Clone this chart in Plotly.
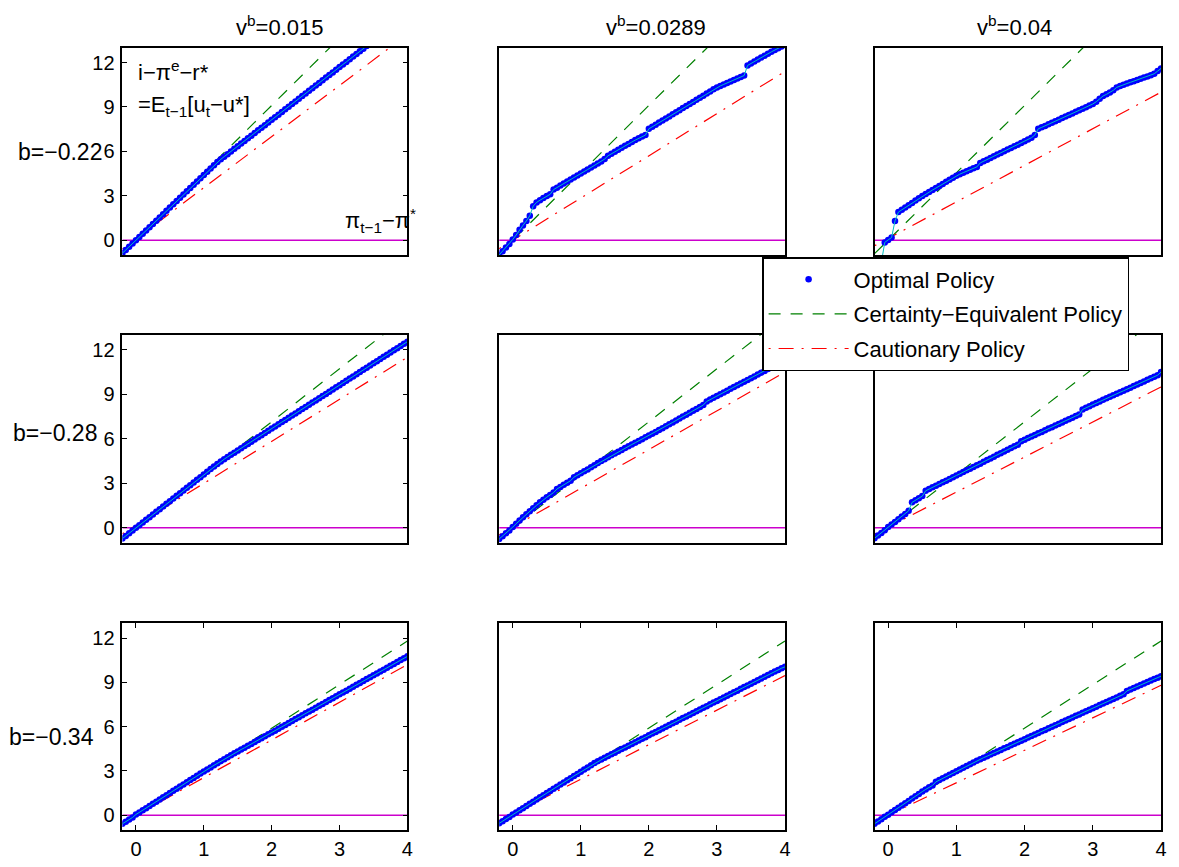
import plotly.graph_objects as go

# ---------------- data ----------------
X = [-0.2, -0.15, -0.1, -0.05, 0.0, 0.05, 0.1, 0.15, 0.2, 0.25, 0.3, 0.35, 0.4, 0.45, 0.5,
     0.55, 0.6, 0.65, 0.7, 0.75, 0.8, 0.85, 0.9, 0.95, 1.0, 1.05, 1.1, 1.15, 1.2, 1.25,
     1.3, 1.35, 1.4, 1.45, 1.5, 1.55, 1.6, 1.65, 1.7, 1.75, 1.8, 1.85, 1.9, 1.95, 2.0,
     2.05, 2.1, 2.15, 2.2, 2.25, 2.3, 2.35, 2.4, 2.45, 2.5, 2.55, 2.6, 2.65, 2.7, 2.75,
     2.8, 2.85, 2.9, 2.95, 3.0, 3.05, 3.1, 3.15, 3.2, 3.25, 3.3, 3.35, 3.4, 3.45, 3.5,
     3.55, 3.6, 3.65, 3.7, 3.75, 3.8, 3.85, 3.9, 3.95, 4.0]

LINE_X = [-0.2, 4.0]
ZERO_Y = [0.0, 0.0]

COL_TITLES = ["v<sup>b</sup>=0.015", "v<sup>b</sup>=0.0289", "v<sup>b</sup>=0.04"]
ROW_LABELS = ["b=\u22120.22", "b=\u22120.28", "b=\u22120.34"]
X_TICKS = [0, 1, 2, 3, 4]
Y_TICKS = [0, 3, 6, 9, 12]

# Optimal policy, row b=-0.22
OPT_R1C1 = [-0.88, -0.66, -0.44, -0.22, 0.0, 0.22, 0.44, 0.66, 0.88, 1.10, 1.32, 1.54, 1.76, 1.98, 2.20,
            2.42, 2.64, 2.86, 3.08, 3.30, 3.52, 3.74, 3.96, 4.18, 4.40, 4.62, 4.84, 5.06, 5.28, 5.46,
            5.64, 5.81, 5.99, 6.17, 6.35, 6.53, 6.70, 6.88, 7.06, 7.24, 7.42, 7.59, 7.77, 7.95, 8.13,
            8.31, 8.48, 8.66, 8.84, 9.02, 9.20, 9.37, 9.55, 9.73, 9.91, 10.09, 10.26, 10.44, 10.62, 10.80,
            10.98, 11.15, 11.33, 11.51, 11.69, 11.87, 12.04, 12.22, 12.40, 12.58, 12.76, 12.93, 13.11, 13.29, 13.47,
            13.65, 13.82, 14.00, 14.18, 14.36, 14.54, 14.71, 14.89, 15.07, 15.25]
OPT_R1C2 = [-1.0, -0.75, -0.5, -0.25, 0.05, 0.35, 0.7, 1.0, 1.3, 1.65, 2.3, 2.55, 2.7, 2.85, 2.98,
            3.1, 3.42, 3.55, 3.7, 3.83, 3.97, 4.1, 4.24, 4.37, 4.5, 4.64, 4.77, 4.91, 5.05, 5.18,
            5.32, 5.48, 5.7, 5.84, 5.97, 6.1, 6.24, 6.37, 6.5, 6.63, 6.76, 6.89, 7.0, 7.1, 7.52,
            7.66, 7.8, 7.94, 8.08, 8.22, 8.36, 8.5, 8.64, 8.78, 8.92, 9.06, 9.2, 9.34, 9.48, 9.62,
            9.76, 9.9, 10.04, 10.2, 10.32, 10.42, 10.52, 10.62, 10.72, 10.82, 10.92, 11.02, 11.12, 11.8, 11.94,
            12.07, 12.2, 12.33, 12.46, 12.59, 12.72, 12.85, 12.96, 13.08, 13.2]
OPT_R1C3 = [-4.2, -2.9, -1.4, -0.15, 0.02, 0.18, 1.3, 1.9, 2.05, 2.2, 2.36, 2.52, 2.68, 2.84, 2.99,
            3.12, 3.26, 3.39, 3.52, 3.66, 3.8, 3.94, 4.08, 4.22, 4.36, 4.46, 4.56, 4.66, 4.76, 4.86,
            4.95, 5.22, 5.33, 5.44, 5.55, 5.67, 5.78, 5.89, 6.0, 6.12, 6.23, 6.34, 6.45, 6.57, 6.68,
            6.8, 6.92, 7.1, 7.52, 7.62, 7.72, 7.83, 7.93, 8.04, 8.14, 8.25, 8.35, 8.46, 8.56, 8.67,
            8.77, 8.88, 8.98, 9.1, 9.2, 9.35, 9.55, 9.74, 9.85, 9.97, 10.12, 10.32, 10.42, 10.5, 10.58,
            10.66, 10.74, 10.82, 10.9, 10.98, 11.06, 11.14, 11.24, 11.42, 11.6]

# Optimal policy, row b=-0.28
OPT_R2C1 = [-0.72, -0.54, -0.36, -0.18, 0.0, 0.18, 0.36, 0.54, 0.72, 0.9, 1.08, 1.26, 1.44, 1.62, 1.8,
            1.98, 2.16, 2.34, 2.52, 2.7, 2.88, 3.06, 3.24, 3.42, 3.6, 3.78, 3.96, 4.14, 4.31, 4.47,
            4.63, 4.78, 4.93, 5.07, 5.22, 5.37, 5.51, 5.66, 5.81, 5.95, 6.1, 6.25, 6.39, 6.54, 6.69,
            6.83, 6.98, 7.13, 7.27, 7.42, 7.57, 7.71, 7.86, 8.01, 8.15, 8.3, 8.45, 8.59, 8.74, 8.89,
            9.03, 9.18, 9.33, 9.47, 9.62, 9.77, 9.91, 10.06, 10.21, 10.35, 10.5, 10.65, 10.79, 10.94, 11.09,
            11.23, 11.38, 11.53, 11.67, 11.82, 11.97, 12.11, 12.26, 12.41, 12.55]
OPT_R2C2 = [-0.75, -0.56, -0.37, -0.18, 0.05, 0.28, 0.5, 0.72, 0.92, 1.12, 1.32, 1.52, 1.72, 1.9, 2.06,
            2.22, 2.38, 2.62, 2.76, 2.9, 3.04, 3.18, 3.42, 3.55, 3.68, 3.81, 3.94, 4.08, 4.22, 4.37,
            4.5, 4.63, 4.76, 4.89, 5.01, 5.13, 5.25, 5.38, 5.5, 5.62, 5.74, 5.86, 5.98, 6.1, 6.22,
            6.34, 6.46, 6.6, 6.72, 6.85, 6.98, 7.11, 7.24, 7.37, 7.5, 7.63, 7.76, 7.89, 8.02, 8.15,
            8.28, 8.52, 8.65, 8.77, 8.89, 9.01, 9.13, 9.25, 9.37, 9.49, 9.61, 9.73, 9.85, 9.97, 10.09,
            10.21, 10.33, 10.46, 10.58, 10.7, 10.83, 10.95, 11.08, 11.2, 11.33]
OPT_R2C3 = [-0.7, -0.52, -0.34, -0.16, 0.05, 0.22, 0.4, 0.58, 0.76, 0.94, 1.15, 1.72, 1.86, 2.0, 2.14,
            2.5, 2.62, 2.73, 2.84, 2.96, 3.07, 3.18, 3.3, 3.41, 3.53, 3.64, 3.76, 3.88, 3.99, 4.1,
            4.22, 4.33, 4.45, 4.57, 4.68, 4.8, 4.92, 5.03, 5.15, 5.27, 5.38, 5.5, 5.61, 5.83, 5.94,
            6.05, 6.15, 6.26, 6.37, 6.47, 6.58, 6.69, 6.79, 6.9, 7.0, 7.11, 7.22, 7.32, 7.43, 7.54,
            7.64, 7.98, 8.09, 8.2, 8.31, 8.42, 8.52, 8.63, 8.73, 8.84, 8.94, 9.04, 9.14, 9.24, 9.35,
            9.45, 9.56, 9.66, 9.77, 9.87, 9.98, 10.08, 10.19, 10.29, 10.5]

# Optimal policy, row b=-0.34
OPT_R3C1 = [-0.58, -0.44, -0.29, -0.15, 0.05, 0.19, 0.34, 0.48, 0.63, 0.78, 0.92, 1.07, 1.21, 1.36, 1.5,
            1.65, 1.8, 1.94, 2.09, 2.23, 2.38, 2.52, 2.67, 2.82, 2.96, 3.1, 3.24, 3.38, 3.52, 3.66,
            3.8, 3.93, 4.06, 4.19, 4.32, 4.45, 4.57, 4.7, 4.83, 4.96, 5.09, 5.22, 5.35, 5.48, 5.61,
            5.73, 5.86, 5.99, 6.12, 6.25, 6.38, 6.51, 6.64, 6.77, 6.9, 7.02, 7.15, 7.28, 7.41, 7.54,
            7.67, 7.8, 7.93, 8.06, 8.19, 8.31, 8.44, 8.57, 8.7, 8.83, 8.96, 9.09, 9.22, 9.35, 9.48,
            9.6, 9.73, 9.86, 9.99, 10.12, 10.25, 10.38, 10.51, 10.64, 10.76]
OPT_R3C2 = [-0.55, -0.41, -0.26, -0.12, 0.05, 0.19, 0.34, 0.48, 0.63, 0.77, 0.92, 1.06, 1.21, 1.35, 1.5,
            1.64, 1.79, 1.93, 2.08, 2.22, 2.37, 2.51, 2.66, 2.8, 2.95, 3.09, 3.24, 3.38, 3.53, 3.66,
            3.78, 3.89, 4.01, 4.13, 4.24, 4.36, 4.48, 4.59, 4.71, 4.83, 4.94, 5.06, 5.18, 5.29, 5.41,
            5.53, 5.64, 5.76, 5.88, 5.99, 6.11, 6.23, 6.34, 6.46, 6.58, 6.69, 6.81, 6.93, 7.04, 7.16,
            7.28, 7.39, 7.51, 7.63, 7.74, 7.86, 7.98, 8.09, 8.21, 8.33, 8.44, 8.56, 8.68, 8.79, 8.91,
            9.03, 9.14, 9.26, 9.38, 9.49, 9.61, 9.73, 9.84, 9.96, 10.05]
OPT_R3C3 = [-0.58, -0.42, -0.27, -0.11, 0.04, 0.2, 0.35, 0.51, 0.66, 0.82, 0.97, 1.13, 1.28, 1.44, 1.6,
            1.75, 1.9, 2.02, 2.26, 2.38, 2.5, 2.62, 2.74, 2.86, 2.98, 3.1, 3.21, 3.33, 3.45, 3.57,
            3.69, 3.79, 3.9, 4.0, 4.11, 4.21, 4.32, 4.42, 4.53, 4.63, 4.74, 4.84, 4.95, 5.05, 5.15,
            5.26, 5.36, 5.47, 5.57, 5.68, 5.78, 5.89, 5.99, 6.1, 6.2, 6.31, 6.41, 6.52, 6.62, 6.73,
            6.83, 6.94, 7.04, 7.14, 7.25, 7.35, 7.46, 7.56, 7.67, 7.77, 7.88, 7.98, 8.09, 8.19, 8.42,
            8.52, 8.62, 8.72, 8.82, 8.92, 9.02, 9.12, 9.22, 9.32, 9.42]

# Certainty-equivalent policy (values at x=-0.2 and x=4)
CE_R1C1 = [-0.91, 18.2]
CE_R1C2 = [-0.91, 18.2]
CE_R1C3 = [-0.91, 18.2]
CE_R2C1 = [-0.71, 14.3]
CE_R2C2 = [-0.71, 14.3]
CE_R2C3 = [-0.71, 14.3]
CE_R3C1 = [-0.59, 11.8]
CE_R3C2 = [-0.59, 11.8]
CE_R3C3 = [-0.59, 11.8]

# Cautionary policy (values at x=-0.2 and x=4)
CAU_R1C1 = [-0.6, 13.9]
CAU_R1C2 = [-0.57, 11.4]
CAU_R1C3 = [-0.38, 10.0]
CAU_R2C1 = [-0.4, 11.5]
CAU_R2C2 = [-0.47, 10.5]
CAU_R2C3 = [-0.42, 9.5]
CAU_R3C1 = [-0.51, 10.2]
CAU_R3C2 = [-0.37, 9.46]
CAU_R3C3 = [-0.44, 8.8]

OPT = [[OPT_R1C1, OPT_R1C2, OPT_R1C3], [OPT_R2C1, OPT_R2C2, OPT_R2C3], [OPT_R3C1, OPT_R3C2, OPT_R3C3]]
CE = [[CE_R1C1, CE_R1C2, CE_R1C3], [CE_R2C1, CE_R2C2, CE_R2C3], [CE_R3C1, CE_R3C2, CE_R3C3]]
CAU = [[CAU_R1C1, CAU_R1C2, CAU_R1C3], [CAU_R2C1, CAU_R2C2, CAU_R2C3], [CAU_R3C1, CAU_R3C2, CAU_R3C3]]

# ---------------- layout geometry ----------------
W, H = 1179, 867
COL_PX = [(123, 409.5), (501.7, 789), (879, 1167)]
ROW_PX = [(47.7, 255), (335, 542.7), (623.3, 830)]
FONT = "Liberation Sans, Arial, Helvetica, sans-serif"

fig = go.Figure()
layout = {}
for r in range(3):
    for c in range(3):
        k = r * 3 + c + 1
        xa = "x" if k == 1 else f"x{k}"
        ya = "y" if k == 1 else f"y{k}"
        show = (r == 0 and c == 0)
        fig.add_trace(go.Scatter(x=LINE_X, y=ZERO_Y, mode="lines", xaxis=xa, yaxis=ya,
                                 line=dict(color="#cc00cc", width=1.5), showlegend=False, hoverinfo="skip"))
        fig.add_trace(go.Scatter(x=LINE_X, y=CE[r][c], mode="lines", xaxis=xa, yaxis=ya,
                                 name="Certainty\u2212Equivalent Policy", legendgroup="ce", legendrank=2,
                                 line=dict(color="#008000", width=1.2, dash="12px,10px"), showlegend=show))
        fig.add_trace(go.Scatter(x=LINE_X, y=CAU[r][c], mode="lines", xaxis=xa, yaxis=ya,
                                 name="Cautionary Policy", legendgroup="cau", legendrank=3,
                                 line=dict(color="#ff0000", width=1.2, dash="2px,8px,15px,8px"), showlegend=show))
        fig.add_trace(go.Scatter(x=X, y=OPT[r][c], mode="markers", xaxis=xa, yaxis=ya,
                                 name="Optimal Policy", legendgroup="opt", legendrank=1,
                                 marker=dict(color="#0000ff", size=6.5, line=dict(width=0)), showlegend=show))
        fig.add_trace(go.Scatter(x=X, y=OPT[r][c], mode="lines", xaxis=xa, yaxis=ya,
                                 line=dict(color="#00c0c0", width=1), showlegend=False, hoverinfo="skip"))

        x0, x1 = COL_PX[c]
        y0, y1 = ROW_PX[r]
        xkey = "xaxis" if k == 1 else f"xaxis{k}"
        ykey = "yaxis" if k == 1 else f"yaxis{k}"
        bottom = (r == 2)
        left = (c == 0)
        layout[xkey] = dict(domain=[x0 / W, x1 / W], range=[-0.2, 4], anchor=ya,
                            showline=True, linecolor="black", linewidth=1.5, mirror="ticks" if bottom else True,
                            ticks="inside" if bottom else "", ticklen=5, tickcolor="black",
                            tickvals=X_TICKS if bottom else [], showticklabels=bottom,
                            showgrid=False, zeroline=False,
                            tickfont=dict(family=FONT, size=20, color="black"))
        layout[ykey] = dict(domain=[1 - y1 / H, 1 - y0 / H], range=[-1, 13], anchor=xa,
                            showline=True, linecolor="black", linewidth=1.5, mirror="ticks" if left else True,
                            ticks="inside" if left else "", ticklen=5, tickcolor="black",
                            tickvals=Y_TICKS if left else [], showticklabels=left,
                            ticklabelstandoff=2,
                            showgrid=False, zeroline=False,
                            tickfont=dict(family=FONT, size=20, color="black"))

annotations = []
TITLE_CX = [281, 659, 1020]
for c in range(3):
    annotations.append(dict(text=COL_TITLES[c], x=TITLE_CX[c] / W, y=1 - 26 / H, xref="paper", yref="paper",
                            xanchor="center", yanchor="middle", showarrow=False,
                            font=dict(family=FONT, size=22, color="black")))
LABEL_CX = [60, 55.5, 51.5]
LABEL_CY = [152, 433, 737]
for r in range(3):
    annotations.append(dict(text=ROW_LABELS[r], x=LABEL_CX[r] / W, y=1 - LABEL_CY[r] / H, xref="paper", yref="paper",
                            xanchor="center", yanchor="middle", showarrow=False,
                            font=dict(family=FONT, size=23, color="black")))
annotations.append(dict(text="i\u2212\u03c0<sup>e</sup>\u2212r*",
                        x=0.0, y=11.45, xref="x", yref="y", xanchor="left", yanchor="middle", align="left",
                        showarrow=False, font=dict(family=FONT, size=22, color="black")))
annotations.append(dict(text="=E<sub>t\u22121</sub>[u<sub>t</sub>\u2212u*]",
                        x=0.0, y=9.05, xref="x", yref="y", xanchor="left", yanchor="middle", align="left",
                        showarrow=False, font=dict(family=FONT, size=22, color="black")))
annotations.append(dict(text="\u03c0<sub>t\u22121</sub>\u2212\u03c0<sup>*</sup>",
                        x=3.05, y=1.3, xref="x", yref="y", xanchor="left", yanchor="middle",
                        showarrow=False, font=dict(family=FONT, size=22, color="black")))

fig.update_layout(**layout)
fig.update_layout(
    width=W, height=H, margin=dict(l=0, r=0, t=0, b=0),
    paper_bgcolor="white", plot_bgcolor="white",
    annotations=annotations,
    showlegend=True,
    legend=dict(x=766 / W, y=1 - 257 / H, xanchor="left", yanchor="top",
                bgcolor="white", bordercolor="black", borderwidth=1.5,
                font=dict(family=FONT, size=22, color="black"),
                itemwidth=80, tracegroupgap=3, traceorder="grouped"),
)

fig.write_html("out.html")
